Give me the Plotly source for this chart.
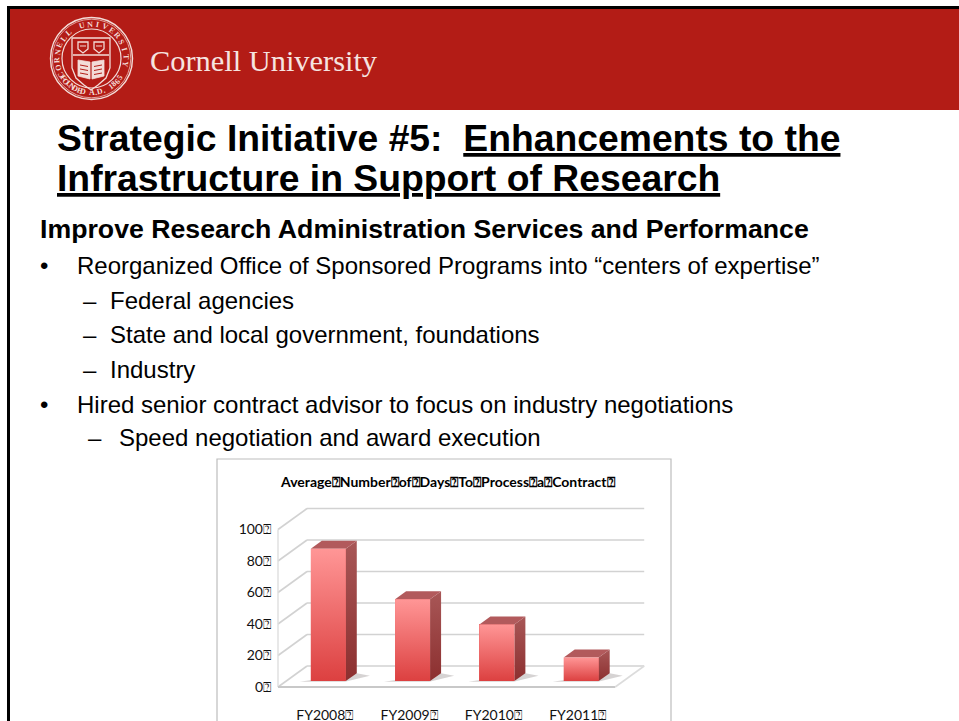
import math
import plotly.graph_objects as go

# Chart data
fiscal_years = ["FY2008", "FY2009", "FY2010", "FY2011"]
avg_days = [84, 52, 36, 15]
y_ticks = [0, 20, 40, 60, 80, 100]
chart_title = "Average Number of Days To Process a Contract"
MISSING = "\u2370"  # the glyph the embedded chart font falls back to

W, H = 959, 721
RED = "#b31c16"
CREST = "#f3dcd8"
GRID = "#d2d2d2"


def fx(x):
    return x / W


def fy(y):
    return 1 - y / H


def page_rect(x0, y0, x1, y1, fill, line=None, width=0):
    return dict(type="rect", xref="paper", yref="paper", layer="below",
                x0=fx(x0), y0=fy(y0), x1=fx(x1), y1=fy(y1), fillcolor=fill,
                line=dict(color=line or fill, width=width))


def page_path(points, fill="rgba(0,0,0,0)", line=CREST, width=1.2, close=True, layer="above"):
    d = "M " + " L ".join(f"{fx(a):.5f},{fy(b):.5f}" for a, b in points) + (" Z" if close else "")
    return dict(type="path", xref="paper", yref="paper", layer=layer, path=d,
                fillcolor=fill, line=dict(color=line, width=width))


def page_circle(cx, cy, r, line=CREST, width=1.2):
    return dict(type="circle", xref="paper", yref="paper", layer="above",
                x0=fx(cx - r), x1=fx(cx + r), y0=fy(cy + r), y1=fy(cy - r),
                fillcolor="rgba(0,0,0,0)", line=dict(color=line, width=width))


def page_text(x, y, text, size, family="Liberation Sans", color="#000000", anchor="left", angle=0):
    return dict(xref="paper", yref="paper", x=fx(x), y=fy(y), text=text, showarrow=False,
                xanchor=anchor, yanchor="middle", textangle=angle, borderpad=0, borderwidth=0,
                font=dict(family=family, size=size, color=color), align="left")


# Slide frame and banner: the frame only runs along the top and left edges
shapes = [
    page_rect(9, 9, W, 110, RED),
    page_path([(8.5, H), (8.5, 7.5), (W, 7.5)], line="#000000", width=3, close=False, layer="below"),
]

# Crest
CX, CY = 91.5, 58.5
shapes += [page_circle(CX, CY, 41, width=1.4), page_circle(CX, CY, 39.3, width=0.7),
           page_circle(CX, CY, 29.5, width=1.2)]
shield = [(72, 38), (110, 38), (110, 68), (106, 78), (98, 85), (91, 90), (84, 85), (76, 78), (72, 68)]
shapes.append(page_path(shield, width=1.3))
shapes.append(page_path([(73, 55), (109, 55)], close=False, width=1.6))
shapes.append(page_path([(78, 42), (88, 42), (88, 49), (83, 53), (78, 49)], width=1.3))
shapes.append(page_path([(94, 42), (104, 42), (104, 49), (99, 53), (94, 49)], width=1.3))
shapes.append(page_path([(80, 46), (86, 46)], close=False, width=1))
shapes.append(page_path([(96, 46), (102, 46)], close=False, width=1))
shapes.append(page_path([(78, 60), (90, 62), (90, 79), (78, 76)], fill=CREST, width=0.8))
shapes.append(page_path([(104, 60), (92, 62), (92, 79), (104, 76)], fill=CREST, width=0.8))
for k in range(3):
    shapes.append(page_path([(80, 65 + 4 * k), (88, 66.5 + 4 * k)], close=False, line=RED, width=1))
    shapes.append(page_path([(102, 65 + 4 * k), (94, 66.5 + 4 * k)], close=False, line=RED, width=1))

annotations = [page_text(150, 61, "Cornell University", 30.4, "Liberation Serif", "#f6e4e0")]


def arc_letters(text, start, stop, radius, flip=False):
    """Place a string letter by letter along the crest ring."""
    n = len(text)
    out = []
    for i, ch in enumerate(text):
        deg = start + (stop - start) * i / (n - 1)
        rad = math.radians(deg)
        x = CX + radius * math.sin(rad)
        y = CY - radius * math.cos(rad)
        angle = deg + 180 if flip else deg
        out.append(page_text(x, y, f"<b>{ch}</b>", 8, "Liberation Serif", CREST, "center", angle))
    return out


annotations += arc_letters("CORNELL UNIVERSITY", -118, 100, 34.3)
annotations += arc_letters("FOUNDED A.D. 1865", 236, 124, 34.3, flip=True)

# Slide text
BODY = 24
annotations += [
    page_text(57, 138, "<b>Strategic Initiative #5:  <u>Enhancements to the</u></b>", 37.3),
    page_text(57, 178, "<b><u>Infrastructure in Support of Research</u></b>", 37.3),
    page_text(40, 229, "<b>Improve Research Administration Services and Performance</b>", 26.7),
    page_text(40, 265, "\u2022", BODY),
    page_text(77, 265, "Reorganized Office of Sponsored Programs into \u201ccenters of expertise\u201d", BODY),
    page_text(83, 300, "\u2013", BODY),
    page_text(110, 300, "Federal agencies", BODY),
    page_text(83, 334, "\u2013", BODY),
    page_text(110, 334, "State and local government, foundations", BODY),
    page_text(83, 369, "\u2013", BODY),
    page_text(110, 369, "Industry", BODY),
    page_text(40, 404, "\u2022", BODY),
    page_text(77, 404, "Hired senior contract advisor to focus on industry negotiations", BODY),
    page_text(88, 438, "\u2013", BODY),
    page_text(119, 438, "Speed negotiation and award execution", BODY),
]

# Chart card: open at the bottom, where it runs off the page
shapes.append(page_rect(217, 459, 671, H, "#ffffff"))
shapes.append(page_path([(217, H), (217, 459), (671, 459), (671, H)], line="#bdbdbd", width=1.2,
                        close=False, layer="below"))
title_text = chart_title.replace(" ", MISSING) + MISSING
annotations.append(page_text(448, 481, f"<b>{title_text}</b>", 14, "Lato", "#000000", "center"))

# Chart geometry: one category step is 84.3 px, one value unit is 1.575 px
PX_CAT, PX_UNIT = 84.3, 1.575
DEPTH_X, DEPTH_Y = 29 / PX_CAT, 21 / PX_UNIT
LEFT_PX, BOTTOM_PX = 278, 687
DOM = (272, 652, 693, 502)
x_range = [-0.5 + (DOM[0] - LEFT_PX) / PX_CAT, -0.5 + (DOM[1] - LEFT_PX) / PX_CAT]
y_range = [(BOTTOM_PX - DOM[2]) / PX_UNIT, (BOTTOM_PX - DOM[3]) / PX_UNIT]
X0, X1 = -0.5, 3.5
BAR_W = 0.415
D_FRONT, D_BACK = 0.28, 0.66


def project(x, v, d):
    """Map category, value and depth (0 front, 1 back) to the axes."""
    return x + d * DEPTH_X, v + d * DEPTH_Y


def axis_line(p, q, color=GRID, width=1.6):
    return dict(type="line", xref="x", yref="y", layer="below", x0=p[0], y0=p[1], x1=q[0], y1=q[1],
                line=dict(color=color, width=width))


for v in y_ticks:
    shapes.append(axis_line(project(X0, v, 1), project(X1, v, 1)))
    shapes.append(axis_line(project(X0, v, 0), project(X0, v, 1)))
shapes.append(axis_line(project(X0, y_ticks[0], 0), project(X0, y_ticks[-1], 0), "#dedede", 1.4))
shapes.append(axis_line(project(X0, 0, 0), project(X1, 0, 0), "#c8c8c8", 2.2))
shapes.append(axis_line(project(X1, 0, 0), project(X1, 0, 1), "#dcdcdc", 1.6))

fig = go.Figure()


def polygon(points, name, color=None, gradient=None):
    xs = [p[0] for p in points] + [points[0][0]]
    ys = [p[1] for p in points] + [points[0][1]]
    kw = dict(fillgradient=gradient) if gradient else dict(fillcolor=color)
    fig.add_trace(go.Scatter(x=xs, y=ys, mode="lines", fill="toself", line=dict(width=0),
                             hoverinfo="skip", showlegend=False, name=name, **kw))


def vertical(top, bottom):
    return dict(type="vertical", colorscale=[[0, bottom], [1, top]])


# Bars: flat front faces first, then shadow, side, top and shaded front per bar
fig.add_trace(go.Bar(
    x=[project(i, 0, D_FRONT)[0] for i in range(len(avg_days))],
    y=avg_days,
    base=[D_FRONT * DEPTH_Y] * len(avg_days),
    width=BAR_W,
    marker=dict(color="#ea6464", line=dict(width=0)),
    showlegend=False,
    name="Average days",
))

for i, value in enumerate(avg_days):
    lo, hi = i - BAR_W / 2, i + BAR_W / 2
    polygon([project(lo - 0.12, 0, D_FRONT - 0.03), project(hi, 0, D_FRONT - 0.03),
             project(hi + 0.2, 0, D_FRONT + 0.25), project(hi, 0, D_BACK)],
            "shadow", "rgba(120,110,110,0.30)")
    polygon([project(hi, 0, D_FRONT), project(hi, 0, D_BACK), project(hi, value, D_BACK), project(hi, value, D_FRONT)],
            "side", gradient=vertical("#a85757", "#8c2f2f"))
    polygon([project(lo, value, D_FRONT), project(hi, value, D_FRONT), project(hi, value, D_BACK), project(lo, value, D_BACK)],
            "top", "#b25a5c")
    polygon([project(lo, 0, D_FRONT), project(hi, 0, D_FRONT), project(hi, value, D_FRONT), project(lo, value, D_FRONT)],
            "front", gradient=vertical("#ff9696", "#dc4040"))

fig.update_layout(
    width=W, height=H, margin=dict(l=0, r=0, t=0, b=0), autosize=False,
    paper_bgcolor="#ffffff", plot_bgcolor="rgba(0,0,0,0)",
    shapes=shapes, annotations=annotations, showlegend=False, bargap=0,
    xaxis=dict(domain=[fx(DOM[0]), fx(DOM[1])], range=x_range, showgrid=False, zeroline=False,
               showline=False, automargin=False, tickmode="array",
               tickvals=[project(i, 0, 0.16)[0] for i in range(len(fiscal_years))],
               ticktext=[f + MISSING for f in fiscal_years], ticks="outside", ticklen=9,
               tickcolor="rgba(0,0,0,0)", tickfont=dict(family="Lato", size=14, color="#111111"),
               fixedrange=True),
    yaxis=dict(domain=[fy(DOM[2]), fy(DOM[3])], range=y_range, showgrid=False, zeroline=False,
               showline=False, automargin=False, tickmode="array",
               tickvals=y_ticks,
               ticktext=[f"{v}{MISSING}" for v in y_ticks], ticks="", ticklabelstandoff=0,
               tickfont=dict(family="Lato", size=14, color="#111111"),
               fixedrange=True),
)

fig.write_html("out.html", config=dict(displayModeBar=False))
